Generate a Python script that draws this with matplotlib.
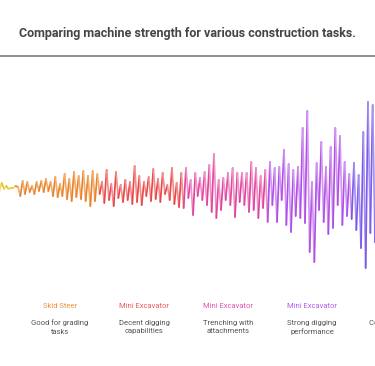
import numpy as np
import matplotlib
matplotlib.use("Agg")
import matplotlib.pyplot as plt
from matplotlib.collections import LineCollection

plt.rcParams['font.family'] = ['Roboto', 'DejaVu Sans']

title = "Comparing machine strength for various construction tasks."

machines = ["", "Skid Steer", "Mini Excavator", "Mini Excavator",
            "Mini Excavator", ""]
descriptions = ["Basic leveling", "Good for grading\ntasks", "Decent digging\ncapabilities",
                "Trenching with\nattachments", "Strong digging\nperformance",
                "Complete heavy\nwork"]

# strength signal per machine (deviation from baseline)
yellow_vals = [1, -2, 2, -1, 3, -3, 5, -1, 2, -1, 0, 0, 2]
orange_vals = [1, -8, 7, -6, 6, -4, 2, -6, 6, -3, 7, -4, 9, -3, 6, -8, 11, -9,
               4, -8, 14, -11, 9, -13, 16, -9, 12, -11, 17, -13, 12, -18, 17, -13, 14, -6]
red_vals = [6, -15, 18, -12, 4, -18, 16, -10, 3, -14, 8, -12, 6, -16, 22, -14, 12, -17,
            6, -8, 11, -13, 19, -11, 9, -14, 15, -6, 3, -12, 20, -16, 5, -19, 15, -20]
pink_vals = [20, -10, 8, -27, 15, -8, 10, -12, 16, -17, 23, -24, 34, -30, 8, -22, 10, -12,
             15, -17, 20, -29, 15, -14, 15, -17, 15, -24, 26, -22, 20, -30, 12, -20, 18, -34]
purple_vals = [26, -17, 20, -34, 21, -12, 38, -37, 24, -44, 18, -28, 21, -30, 60, -35, 77, -64,
               6, -74, 25, -22, 46, -34, 21, -46, 41, -40, 60, -17, 52, -37, 26, -28, 14, -31]
blue_vals = [25, -42, 13, -60, 56, -80, 86, -45, 83, -54, 61, -70, 78, -66]

segments = [yellow_vals, orange_vals, red_vals, pink_vals, purple_vals, blue_vals]
dark_colors = ["#E6C51E", "#E8822C", "#E84848", "#E0459E", "#B04FE6", "#7A5CE8"]
light_colors = ["#F0DA66", "#F2AE6E", "#F29090", "#EF93C8", "#D096F2", "#A792F2"]
label_colors = ["#E6C51E", "#EE9444", "#EE5A5A", "#E455B0", "#B65EE8", "#7A5CE8"]

W, H = 375, 366
fig = plt.figure(figsize=(W / 100, H / 100), dpi=100)

# title + rule
fig.text(0.5, 1 - 33.5 / H, title, ha='center', va='center', fontsize=9.0,
         fontweight='bold', color='#454545')
fig.add_artist(plt.Line2D([0, 1], [1 - 56 / H, 1 - 56 / H], color='#7a7a7a', lw=1.2))

# waveform axes
ax = fig.add_axes([0, (H - 288) / H, 1, 200 / H])
ax.axis('off')
vals = np.concatenate([np.array(s, float) for s in segments])
seg_id = np.concatenate([np.full(len(s), k) for k, s in enumerate(segments)])
n_per = len(orange_vals)
dx = 84.0 / n_per
x = np.arange(len(vals)) * dx
boundary = len(yellow_vals) * dx  # yellow/orange boundary at px 18
x0 = boundary - 18
ax.set_xlim(x0, x0 + W)
ax.set_ylim(-100, 100)

pts = np.column_stack([x, vals])
lines, cols = [], []
for i in range(len(vals) - 1):
    k = seg_id[i + 1]
    lines.append([pts[i], pts[i + 1]])
    cols.append(dark_colors[k] if i % 2 == 0 else light_colors[k])
ax.add_collection(LineCollection(lines, colors=cols, linewidths=1.25,
                                 capstyle='round', joinstyle='round'))

# labels
for k, (m, d) in enumerate(zip(machines, descriptions)):
    cx = 18 + (k - 0.5) * 84
    if m:
        fig.text(cx / W, 1 - 306 / H, m, ha='center', va='center', fontsize=5.5,
                 color=label_colors[k])
    fig.text(cx / W, 1 - 319.5 / H, d, ha='center', va='top', fontsize=5.5,
             color='#555555', linespacing=1.5)

fig.savefig("out.png", dpi=100, facecolor='white')
